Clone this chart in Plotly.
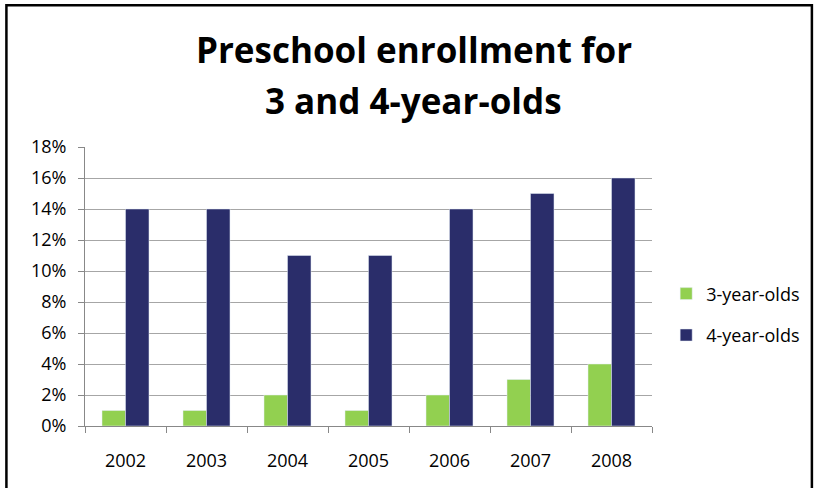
import plotly.graph_objects as go

years = ['2002', '2003', '2004', '2005', '2006', '2007', '2008']
three_year_olds = [0.01, 0.01, 0.02, 0.01, 0.02, 0.03, 0.04]
four_year_olds = [0.14, 0.14, 0.11, 0.11, 0.14, 0.15, 0.16]

fig = go.Figure()

fig.add_trace(go.Bar(
    x=years, y=three_year_olds,
    name="3-year-olds", legendgroup='g3',
    marker_color='#92D050'
))

fig.add_trace(go.Bar(
    x=years, y=four_year_olds,
    name="4-year-olds", legendgroup='g4',
    marker_color='#2A2D6A'
))

# outer chart frame
fig.add_shape(
    type='rect', xref='paper', yref='paper',
    x0=-0.1386, x1=1.282, y0=-0.30, y1=1.508,
    line=dict(color='black', width=2.5), layer='above'
)

# two-line title, placed as annotations for exact positioning
title_font = dict(family='Open Sans', size=35, color='black', weight='bold')
fig.add_annotation(text="Preschool enrollment for", xref='paper', yref='paper',
                   x=0.58, y=1.35, xanchor='center', yanchor='middle',
                   showarrow=False, font=title_font)
fig.add_annotation(text="3 and 4-year-olds", xref='paper', yref='paper',
                   x=0.58, y=1.165, xanchor='center', yanchor='middle',
                   showarrow=False, font=title_font)

fig.update_layout(
    barmode='group',
    bargap=0.42,
    bargroupgap=0,
    width=817, height=488,
    autosize=False,
    paper_bgcolor='white',
    plot_bgcolor='white',
    font=dict(family='Open Sans', size=18, color='black'),
    legend=dict(
        x=1.025, xanchor='left', y=0.40, yanchor='middle',
        font=dict(size=18), tracegroupgap=15, itemwidth=30
    ),
    margin=dict(l=85, r=162, t=147, b=62),
    showlegend=True
)

fig.update_xaxes(
    showline=True, linecolor='#888888', linewidth=1,
    ticks='outside', tickson='boundaries', ticklen=6, tickcolor='#888888',
    showgrid=False, ticklabelstandoff=18
)

fig.update_yaxes(
    range=[0, 0.18], dtick=0.02, tickformat='.0%',
    showline=True, linecolor='#888888', linewidth=1,
    ticks='outside', ticklen=6, tickcolor='#888888',
    showgrid=True, gridcolor='#A6A6A6', gridwidth=1,
    zeroline=False, ticklabelstandoff=8
)

fig.write_html(
    "out.html",
    config=dict(displayModeBar=False, responsive=False),
    post_script=(
        "document.body.style.margin='0';"
        "document.body.style.overflow='hidden';"
        "Plotly.relayout('{plot_id}', {width: 817, height: 488});"
    ),
)
